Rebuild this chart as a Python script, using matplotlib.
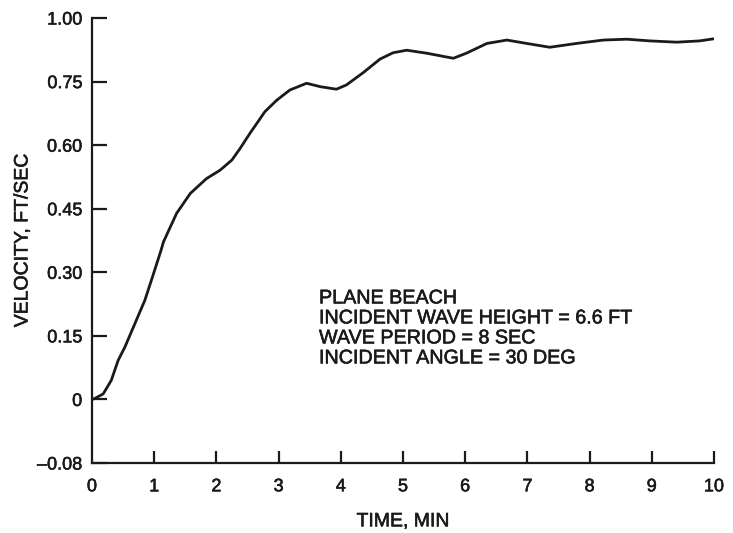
import matplotlib.pyplot as plt
import matplotlib.patheffects as pe

# --- Data (time in min, velocity on the chart's tick scale) ---
time_min = [0.0, 0.04, 0.18, 0.31, 0.42, 0.53, 0.69, 0.85, 0.99, 1.11, 1.15, 1.36,
            1.58, 1.84, 2.06, 2.25, 2.38, 2.54, 2.78, 2.97, 3.18, 3.45, 3.67, 3.93,
            4.09, 4.36, 4.63, 4.84, 5.06, 5.38, 5.81, 6.02, 6.35, 6.67, 6.99, 7.36,
            7.79, 8.22, 8.6, 8.97, 9.4, 9.77, 10.0]
velocity = [0.0, 0.002, 0.013, 0.045, 0.092, 0.124, 0.179, 0.234, 0.297, 0.352,
            0.372, 0.439, 0.486, 0.521, 0.541, 0.565, 0.592, 0.628, 0.679, 0.706,
            0.73, 0.746, 0.738, 0.732, 0.742, 0.771, 0.803, 0.818, 0.824, 0.817,
            0.805, 0.817, 0.84, 0.848, 0.84, 0.831, 0.84, 0.848, 0.85, 0.846,
            0.843, 0.846, 0.851]

x_ticks = list(range(0, 11))
x_tick_labels = [str(t) for t in x_ticks]
y_ticks = [-0.15, 0.0, 0.15, 0.30, 0.45, 0.60, 0.75, 0.90]
y_tick_labels = ["\u20130.08", "0", "0.15", "0.30", "0.45", "0.60", "0.75", "1.00"]

notes = ["PLANE BEACH",
         "INCIDENT WAVE HEIGHT = 6.6 FT",
         "WAVE PERIOD = 8 SEC",
         "INCIDENT ANGLE = 30 DEG"]

plt.rcParams['font.family'] = ['Liberation Sans', 'DejaVu Sans']
ink = '#1a1a1a'
# slightly heavier text, like the old typeset labels
heavy = [pe.withStroke(linewidth=0.4, foreground=ink)]

fig = plt.figure(figsize=(7.33, 5.33), dpi=100)
ax = fig.add_axes([0.1255, 0.1313, 0.974 - 0.1255, 0.9662 - 0.1313])

ax.plot(time_min, velocity, color=ink, linewidth=2.0,
        solid_capstyle='round', solid_joinstyle='round')

ax.set_xlim(0, 10)
ax.set_ylim(-0.15, 0.90)

for side in ['top', 'right']:
    ax.spines[side].set_visible(False)
for side in ['left', 'bottom']:
    ax.spines[side].set_linewidth(1.6)
    ax.spines[side].set_color(ink)

ax.set_xticks(x_ticks)
ax.set_xticklabels(x_tick_labels)
ax.set_yticks(y_ticks)
ax.set_yticklabels(y_tick_labels)
ax.tick_params(axis='x', direction='in', length=9, width=1.6, color=ink,
               pad=11, labelsize=13, labelcolor=ink)
ax.tick_params(axis='y', direction='in', length=11, width=1.6, color=ink,
               pad=7, labelsize=13, labelcolor=ink)
ax.xaxis.get_major_ticks()[0].tick1line.set_visible(False)
for lbl in ax.get_xticklabels() + ax.get_yticklabels():
    lbl.set_path_effects(heavy)

ax.set_xlabel("TIME, MIN", fontsize=14, color=ink, labelpad=13,
              path_effects=heavy)
ax.set_ylabel("VELOCITY, FT/SEC", fontsize=14, color=ink, labelpad=4,
              path_effects=heavy)

for i, line in enumerate(notes):
    ax.annotate(line, xy=(3.65, 0.262), xytext=(0, -14.4 * i),
                textcoords='offset points', fontsize=14.2, color=ink,
                ha='left', va='top', path_effects=heavy)

fig.savefig("out.png", dpi=100)
